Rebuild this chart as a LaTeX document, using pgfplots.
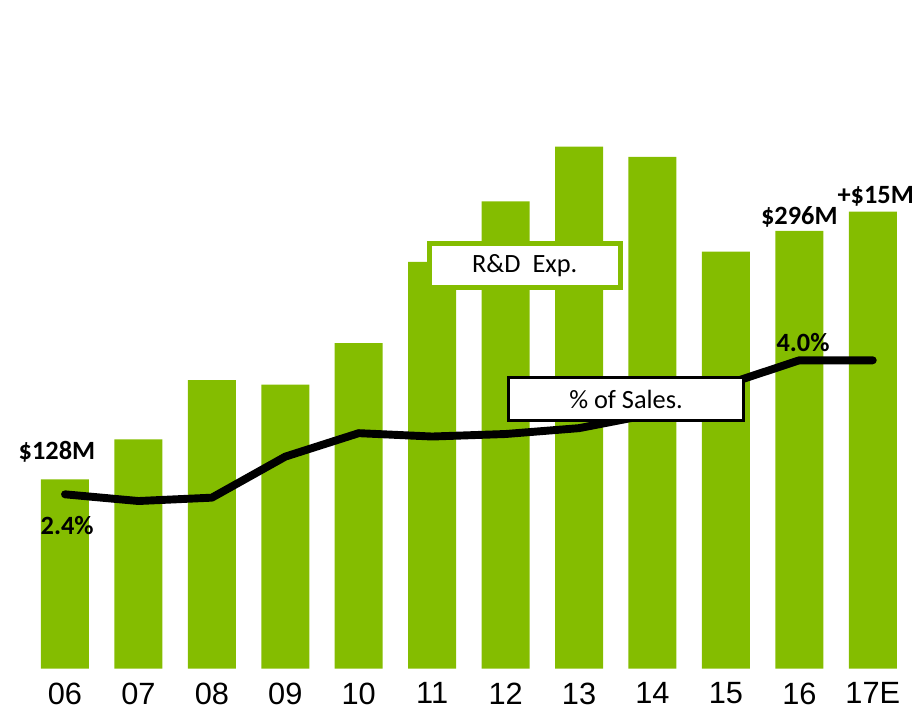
\documentclass[border=0pt]{standalone}
\usepackage{fontspec}
\setmainfont{Carlito}
\newfontfamily\arial{Liberation Sans}
\usepackage{pgfplots}
\pgfplotsset{compat=1.18}
\definecolor{nvgreen}{RGB}{132,189,0}

\begin{document}
\begin{tikzpicture}[x=0.02cm,y=0.02cm]
\path (0,0) rectangle (921,710);
% R&D expense bars ($M)
\begin{axis}[
  at={(0,28)}, anchor=south west,
  width=18.42cm, height=11.36cm, scale only axis,
  xmin=-0.885, xmax=11.654, ymin=0, ymax=384,
  axis line style={draw=none}, hide y axis,
  xtick={0,...,11}, major tick length=0,
  xticklabels={06,07,08,09,10,11,12,13,14,15,16,17E},
  xticklabel style={font=\arial\fontsize{17.5}{20}\selectfont, yshift=-4.5pt},
  clip=false]
  \addplot[ybar, bar width=0.96cm, fill=nvgreen, draw=none] coordinates {
    (0,128)(1,155)(2,195)(3,192)(4,220)(5,275)(6,316)(7,353)(8,346)(9,282)(10,296)(11,309)};
  \node[font=\bfseries\fontsize{15}{18}\selectfont] at (axis cs:-0.11,146.7) {\$128M};
  \node[font=\bfseries\fontsize{15}{18}\selectfont] at (axis cs:10.0,305.6) {\$296M};
  \node[font=\bfseries\fontsize{15}{18}\selectfont] at (axis cs:11.04,319) {+\$15M};
  \node[draw=nvgreen, line width=2.8pt, fill=white, minimum width=3.82cm, minimum height=0.88cm,
        font=\fontsize{15}{18}\selectfont] at (axis cs:6.26,272.4) {R\&D\ \ Exp.};
\end{axis}
% R&D as % of sales
\begin{axis}[
  at={(0,48.5)}, anchor=south west,
  width=18.42cm, height=11.36cm, scale only axis,
  xmin=-0.885, xmax=11.654, ymin=0.31, ymax=7.09,
  axis lines=none, clip=false]
  \addplot[black, line width=4.5pt, line cap=round, line join=round] coordinates {
    (0,2.40)(1,2.32)(2,2.36)(3,2.85)(4,3.13)(5,3.09)(6,3.12)(7,3.19)(8,3.36)(9,3.71)(10,4.0)(11,4.0)};
  \node[font=\bfseries\fontsize{15}{18}\selectfont] at (axis cs:0.03,2.03) {2.4\%};
  \node[font=\bfseries\fontsize{15}{18}\selectfont] at (axis cs:10.05,4.215) {4.0\%};
  \node[draw=black, line width=1.8pt, fill=white, minimum width=4.7cm, minimum height=0.86cm,
        font=\fontsize{15}{18}\selectfont] at (axis cs:7.64,3.534) {\% of Sales.};
\end{axis}
\end{tikzpicture}
\end{document}
